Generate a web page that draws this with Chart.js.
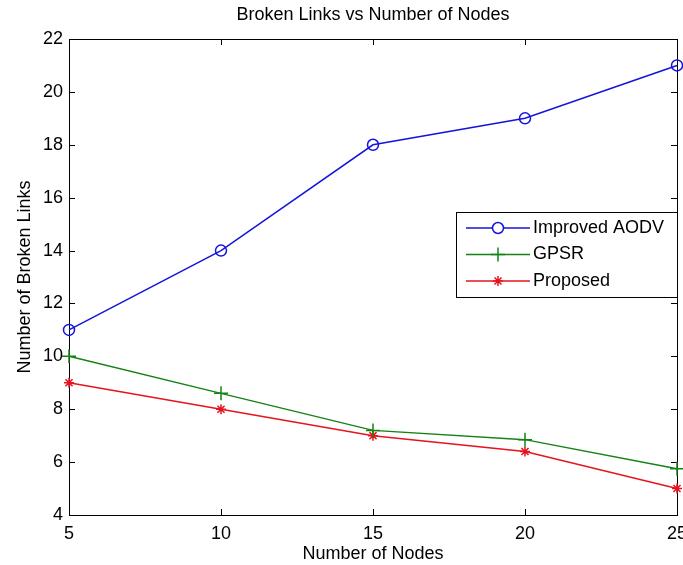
<!DOCTYPE html>
<html>
<head>
<meta charset="utf-8">
<script src="https://cdn.jsdelivr.net/npm/chart.js@4"></script>
<style>
  html, body { margin: 0; padding: 0; background: #fff; }
  #wrap { width: 683px; height: 565px; }
</style>
</head>
<body>
<div id="wrap"><canvas id="myChart" width="683" height="565"></canvas></div>
<script>
// chart data
const nodes = [5, 10, 15, 20, 25];
const improvedAodv = [11, 14, 18, 19, 21];
const gpsr = [10, 8.6, 7.2, 6.85, 5.75];
const proposed = [9, 8, 7, 6.4, 5];
const seriesNames = ['Improved AODV', 'GPSR', 'Proposed'];
const chartTitle = 'Broken Links vs Number of Nodes';

const FONT = '"Liberation Sans Narrow", "Liberation Sans", Arial, sans-serif';

function pts(ys) {
  return ys.map((y, i) => ({ x: nodes[i], y: y }));
}

// MATLAB style box, inward ticks, title and legend
const matlabLook = {
  id: 'matlabLook',
  beforeDatasetsDraw(chart) {
    const { ctx, chartArea: a, scales } = chart;
    ctx.save();
    ctx.strokeStyle = '#000';
    ctx.lineWidth = 1;
    ctx.strokeRect(a.left + 0.5, a.top + 0.5, a.right - a.left, a.bottom - a.top);
    const len = 6;
    ctx.beginPath();
    scales.x.ticks.forEach(t => {
      const px = Math.round(scales.x.getPixelForValue(t.value)) + 0.5;
      ctx.moveTo(px, a.bottom); ctx.lineTo(px, a.bottom - len);
      ctx.moveTo(px, a.top); ctx.lineTo(px, a.top + len);
    });
    scales.y.ticks.forEach(t => {
      const py = Math.round(scales.y.getPixelForValue(t.value)) + 0.5;
      ctx.moveTo(a.left, py); ctx.lineTo(a.left + len, py);
      ctx.moveTo(a.right, py); ctx.lineTo(a.right - len, py);
    });
    ctx.stroke();
    ctx.restore();
  },
  afterDraw(chart) {
    const { ctx, chartArea: a } = chart;
    ctx.save();
    // title
    ctx.fillStyle = '#000';
    ctx.font = '18px ' + FONT;
    ctx.textAlign = 'center';
    ctx.textBaseline = 'middle';
    ctx.fillText(chartTitle, (a.left + a.right) / 2, 15);

    // legend
    const box = { l: 456, t: 212, r: a.right, b: 297 };
    ctx.fillStyle = '#fff';
    ctx.fillRect(box.l, box.t, box.r - box.l, box.b - box.t);
    ctx.strokeStyle = '#000';
    ctx.lineWidth = 1;
    ctx.strokeRect(box.l + 0.5, box.t + 0.5, box.r - box.l, box.b - box.t);
    chart.data.datasets.forEach((ds, i) => {
      const y = 228 + i * 26.5;
      ctx.strokeStyle = ds.borderColor;
      ctx.lineWidth = 1.5;
      ctx.beginPath();
      ctx.moveTo(466, y); ctx.lineTo(530, y);
      ctx.stroke();
      Chart.helpers.drawPoint(ctx, {
        pointStyle: ds.pointStyle, radius: ds.pointRadius, borderWidth: 1.5
      }, 498, y);
      ctx.fillStyle = '#000';
      ctx.font = '18px ' + FONT;
      ctx.textAlign = 'left';
      ctx.fillText(ds.label, 533, y);
    });
    ctx.restore();
  }
};

const ctx = document.getElementById('myChart').getContext('2d');
const myChart = new Chart(ctx, {
  type: 'line',
  data: {
    datasets: [
      { label: seriesNames[0], data: pts(improvedAodv), borderColor: 'rgb(20,20,220)',
        backgroundColor: 'rgba(0,0,0,0)', pointStyle: 'circle', pointRadius: 5.5 },
      { label: seriesNames[1], data: pts(gpsr), borderColor: 'rgb(20,130,20)',
        backgroundColor: 'rgba(0,0,0,0)', pointStyle: 'cross', pointRadius: 7 },
      { label: seriesNames[2], data: pts(proposed), borderColor: 'rgb(230,20,30)',
        backgroundColor: 'rgba(0,0,0,0)', pointStyle: 'star', pointRadius: 5 }
    ].map(d => Object.assign(d, {
      borderWidth: 1.5, pointBorderWidth: 1.5, pointBorderColor: d.borderColor,
      pointBackgroundColor: 'rgba(0,0,0,0)', tension: 0, clip: false
    }))
  },
  options: {
    responsive: false,
    animation: false,
    layout: { autoPadding: false, padding: { top: 39, right: 6, left: 0, bottom: 0 } },
    plugins: { legend: { display: false }, title: { display: false }, tooltip: { enabled: false } },
    scales: {
      x: {
        type: 'linear', min: 5, max: 25,
        ticks: { stepSize: 5, color: '#000', font: { family: FONT, size: 18 }, padding: 8 },
        grid: { display: false, drawTicks: false },
        border: { display: false },
        title: { display: true, text: 'Number of Nodes', color: '#000',
                 font: { family: FONT, size: 18 }, padding: { top: 0, bottom: 0 } },
        afterFit: s => { s.height = 50; s.paddingLeft = 0; s.paddingRight = 0; }
      },
      y: {
        type: 'linear', min: 4, max: 22,
        ticks: { stepSize: 2, color: '#000', font: { family: FONT, size: 18 }, padding: 6 },
        grid: { display: false, drawTicks: false },
        border: { display: false },
        title: { display: true, text: 'Number of Broken Links', color: '#000',
                 font: { family: FONT, size: 18 }, padding: { top: 14, bottom: 0 } },
        afterFit: s => { s.width = 69; s.paddingTop = 0; s.paddingBottom = 0; }
      }
    }
  },
  plugins: [matlabLook]
});
</script>
</body>
</html>
